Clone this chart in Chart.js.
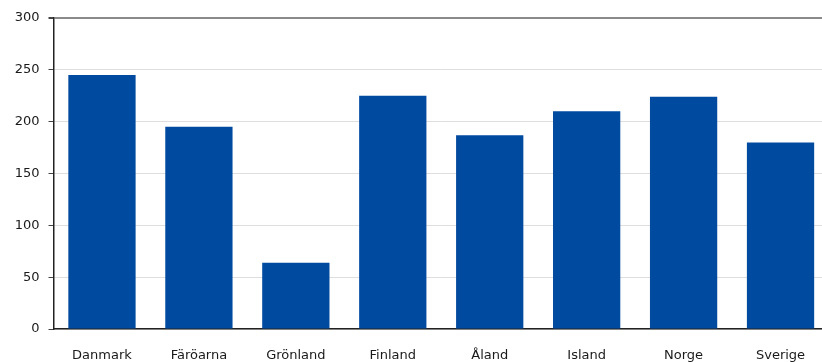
<!DOCTYPE html>
<html>
<head>
<meta charset="utf-8">
<script src="https://cdn.jsdelivr.net/npm/chart.js@4.4.1/dist/chart.umd.min.js"></script>
<style>
  html, body { margin: 0; padding: 0; background: #fff; overflow: hidden; }
  #wrap { width: 830px; height: 362px; }
</style>
</head>
<body>
<div id="wrap"><canvas id="grafico"></canvas></div>
<script>
const kategorier = ['Danmark', 'Färöarna', 'Grönland', 'Finland', 'Åland', 'Island', 'Norge', 'Sverige'];
const varden = [245, 195, 64, 225, 187, 210, 224, 180];
const yTicks = [0, 50, 100, 150, 200, 250, 300];

const FONT = "'DejaVu Sans', sans-serif";

new Chart(document.getElementById('grafico'), {
  type: 'bar',
  data: {
    labels: kategorier,
    datasets: [{
      data: varden,
      backgroundColor: '#004a9f',
      barPercentage: 0.694,
      categoryPercentage: 1
    }]
  },
  options: {
    responsive: true,
    maintainAspectRatio: false,
    animation: false,
    layout: { padding: { top: 18, right: 1, left: 0, bottom: 0 } },
    plugins: {
      legend: { display: false },
      tooltip: { enabled: false }
    },
    scales: {
      x: {
        afterFit: s => { s.height = 33; },
        grid: { display: false, drawTicks: false },
        border: { color: '#222', width: 1.5 },
        ticks: {
          padding: 19,
          color: '#1a1a1a',
          maxRotation: 0,
          font: { family: FONT, size: 13 }
        }
      },
      y: {
        min: 0,
        max: 300,
        afterFit: s => { s.width = 53.5; },
        afterBuildTicks: s => { s.ticks = yTicks.map(v => ({ value: v })); },
        border: { color: '#222', width: 1.5 },
        grid: {
          color: c => c.tick && c.tick.value === 300 ? '#8a8a8a' : '#dedede',
          lineWidth: c => c.tick && c.tick.value === 300 ? 2 : 1,
          tickColor: '#444',
          tickLength: 5
        },
        ticks: {
          padding: 9,
          color: '#1a1a1a',
          font: { family: FONT, size: 13 }
        }
      }
    }
  }
});
</script>
</body>
</html>
